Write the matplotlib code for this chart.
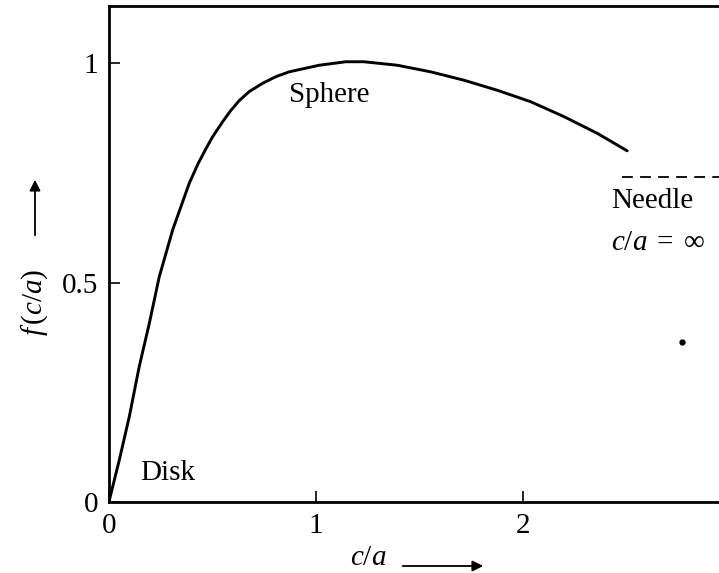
import matplotlib
matplotlib.use("Agg")
import matplotlib.pyplot as plt

plt.rcParams['font.family'] = 'Liberation Serif'
plt.rcParams['mathtext.fontset'] = 'custom'
plt.rcParams['mathtext.rm'] = 'Liberation Serif'
plt.rcParams['mathtext.it'] = 'Liberation Serif:italic'

# curve: f(c/a) against c/a
ca = [0.0, 0.010, 0.050, 0.098, 0.146, 0.195, 0.243, 0.308, 0.388, 0.430,
      0.469, 0.501, 0.549, 0.589, 0.629, 0.678, 0.743, 0.807, 0.871, 1.016,
      1.145, 1.233, 1.395, 1.556, 1.716, 1.878, 2.039, 2.200, 2.361, 2.506]
f = [0.0, 0.020, 0.096, 0.194, 0.308, 0.407, 0.513, 0.620, 0.726, 0.770,
     0.805, 0.832, 0.866, 0.892, 0.914, 0.935, 0.954, 0.969, 0.980, 0.995,
     1.003, 1.003, 0.995, 0.980, 0.961, 0.938, 0.912, 0.878, 0.840, 0.800]

needle_level = 0.74
needle_start = 2.48
dot = (2.77, 0.364)

xticks = [0, 1, 2]
yticks = [0, 0.5, 1]
ytick_labels = ['0', '0.5', '1']

fig = plt.figure(figsize=(7.19, 5.73), dpi=100)
ax = fig.add_axes([0.1516, 0.124, 0.8484, 0.8655])

ax.plot(ca, f, color='black', lw=2.1, solid_capstyle='round',
        solid_joinstyle='round')
ax.plot([needle_start, 3.2], [needle_level, needle_level], color='black',
        lw=1.3, dashes=(6, 4))
ax.plot([dot[0]], [dot[1]], 'o', color='black', ms=3.5)

ax.set_xlim(0, 2.95)
ax.set_ylim(0, 1.13)
ax.set_xticks(xticks)
ax.set_yticks(yticks)
ax.set_yticklabels(ytick_labels)
ax.tick_params(direction='in', length=8, width=1.2, labelsize=21, pad=8)
for s in ax.spines.values():
    s.set_linewidth(2.0)
ax.spines['right'].set_visible(False)

ax.text(0.87, 0.927, 'Sphere', fontsize=21, va='center')
ax.text(0.15, 0.066, 'Disk', fontsize=21, va='center')
ax.text(2.43, 0.685, 'Needle', fontsize=21, va='center')
ax.text(2.43, 0.59, r'$c/a\;=\;\infty$', fontsize=21, va='center')

# axis labels with arrows
fig.text(35 / 719, 1 - 302 / 573, r'$f\,(c/a)$', fontsize=21, rotation=90,
         ha='center', va='center')
fig.add_artist(matplotlib.patches.FancyArrowPatch(
    (35 / 719, 1 - 238 / 573), (35 / 719, 1 - 177 / 573),
    transform=fig.transFigure, arrowstyle='-|>', mutation_scale=16,
    color='black', lw=1.3))
fig.text(368 / 719, 1 - 558 / 573, r'$c/a$', fontsize=21,
         ha='center', va='center')
fig.add_artist(matplotlib.patches.FancyArrowPatch(
    (400 / 719, 1 - 566 / 573), (486 / 719, 1 - 566 / 573),
    transform=fig.transFigure, arrowstyle='-|>', mutation_scale=16,
    color='black', lw=1.3))

fig.savefig('out.png', dpi=100)
